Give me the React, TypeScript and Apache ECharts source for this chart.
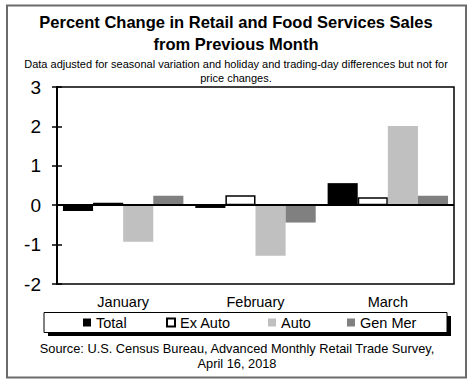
import React, { useEffect, useRef } from "react";
import * as echarts from "echarts";

const categories = ["January", "February", "March"];
const seriesNames = ["Total", "Ex Auto", "Auto", "Gen Mer"];
const totalValues = [-0.15, -0.07, 0.56];
const exAutoValues = [0.06, 0.25, 0.2];
const autoValues = [-0.93, -1.28, 2.01];
const genMerValues = [0.24, -0.44, 0.24];
const yTicks = { min: -2, max: 3, interval: 1 };

const titleLines = ["Percent Change in Retail and Food Services Sales", "from Previous Month"];
const subtitleLines = [
  "Data adjusted for seasonal variation and holiday and trading-day differences but not for",
  "price changes.",
];
const sourceLines = [
  "Source: U.S. Census Bureau, Advanced Monthly Retail Trade Survey,",
  "April 16, 2018",
];

const FONT = "'Liberation Sans', Arial, sans-serif";

export default function App() {
  const ref = useRef<HTMLDivElement>(null);
  useEffect(() => {
    if (!ref.current) return;
    const chart = echarts.init(ref.current, undefined, { renderer: "svg" });
    const legendLefts = [83, 166, 268, 347];
    const text = (t: string, x: number, y: number, size: number, bold = false) => ({
      type: "text",
      x,
      y,
      style: {
        text: t,
        fill: "#000",
        font: `${bold ? "bold " : ""}${size}px ${FONT}`,
        textAlign: "center",
        textVerticalAlign: "middle",
      },
    });
    chart.setOption({
      animation: false,
      backgroundColor: "#fff",
      textStyle: { fontFamily: FONT },
      grid: {
        left: 57,
        top: 87,
        width: 397,
        height: 197,
        show: true,
        borderColor: "#000",
        borderWidth: 1.5,
        backgroundColor: "transparent",
      },
      xAxis: {
        type: "category",
        data: categories,
        axisLine: { show: false },
        axisTick: { show: false },
        axisLabel: { fontSize: 14.5, color: "#000", margin: 10, fontFamily: FONT },
        splitLine: { show: false },
      },
      yAxis: [
        {
          type: "value",
          min: yTicks.min,
          max: yTicks.max,
          interval: yTicks.interval,
          axisLine: { show: true, lineStyle: { color: "#000", width: 2 } },
          axisTick: { show: true, inside: false, length: 5, lineStyle: { color: "#000", width: 1.5 } },
          axisLabel: { fontSize: 19, color: "#000", margin: 16, fontFamily: FONT },
          splitLine: { show: false },
        },
        {
          type: "value",
          min: yTicks.min,
          max: yTicks.max,
          interval: yTicks.interval,
          position: "left",
          axisLine: { show: false },
          axisTick: { show: true, inside: true, length: 5, lineStyle: { color: "#000", width: 1.5 } },
          axisLabel: { show: false },
          splitLine: { show: false },
        },
      ],
      legend: seriesNames.map((n, i) => ({
        data: [n],
        left: legendLefts[i],
        top: 315,
        padding: 0,
        itemWidth: 8,
        itemHeight: 8,
        icon: "rect",
        textStyle: { fontSize: 14.5, color: "#000", fontFamily: FONT },
        selectedMode: false,
      })),
      series: [
        {
          name: seriesNames[0],
          type: "bar",
          data: totalValues,
          barGap: "0%",
          barCategoryGap: "9%",
          itemStyle: { color: "#000" },
          markLine: {
            silent: true,
            symbol: ["none", "none"],
            label: { show: false },
            lineStyle: { color: "#000", width: 2, type: "solid" },
            data: [{ yAxis: 0 }],
          },
        },
        {
          name: seriesNames[1],
          type: "bar",
          data: exAutoValues,
          barGap: "0%",
          barCategoryGap: "9%",
          itemStyle: { color: "#fff", borderColor: "#000", borderWidth: 1.5 },
        },
        {
          name: seriesNames[2],
          type: "bar",
          data: autoValues,
          barGap: "0%",
          barCategoryGap: "9%",
          itemStyle: { color: "#c0c0c0" },
        },
        {
          name: seriesNames[3],
          type: "bar",
          data: genMerValues,
          barGap: "0%",
          barCategoryGap: "9%",
          itemStyle: { color: "#808080" },
        },
      ],
      graphic: [
        {
          type: "rect",
          shape: { x: 7, y: 5.5, width: 459, height: 372 },
          style: { fill: "none", stroke: "#6b6b6b", lineWidth: 2 },
          z: -10,
        },
        {
          type: "rect",
          shape: { x: 48, y: 316, width: 403, height: 20 },
          style: { fill: "#000" },
          z: -5,
        },
        {
          type: "rect",
          shape: { x: 44, y: 312.5, width: 403, height: 20 },
          style: { fill: "#fff", stroke: "#000", lineWidth: 1 },
          z: -4,
        },
        text(titleLines[0], 236, 21.5, 16.5, true),
        text(titleLines[1], 236, 44.3, 16.5, true),
        text(subtitleLines[0], 236, 63.5, 11),
        text(subtitleLines[1], 236, 78.3, 11),
        text(sourceLines[0], 237, 348.9, 12.8),
        text(sourceLines[1], 237, 363, 12.8),
      ],
    });
    return () => chart.dispose();
  }, []);
  return (
    <div
      ref={ref}
      style={{ position: "fixed", left: 0, top: 0, width: 474, height: 386, background: "#fff" }}
    />
  );
}
